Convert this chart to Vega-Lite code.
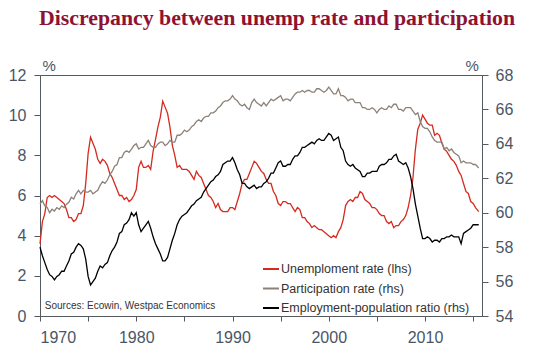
{
  "$schema": "https://vega.github.io/schema/vega-lite/v6.json",
  "width": 442,
  "height": 241,
  "autosize": {"type": "none"},
  "padding": {"left": 40, "top": 75, "right": 52, "bottom": 36},
  "background": "white",
  "title": {
    "text": "Discrepancy between unemp rate and participation",
    "font": "Liberation Serif",
    "fontSize": 21.8,
    "fontWeight": "bold",
    "color": "#8e1232",
    "anchor": "start",
    "frame": "group",
    "offset": 28,
    "dx": -1
  },
  "config": {
    "view": {"stroke": "#555a60", "strokeWidth": 1},
    "axis": {
      "domainColor": "#555a60",
      "tickColor": "#555a60",
      "labelColor": "#4a5666",
      "labelFont": "Liberation Sans",
      "labelFontSize": 16,
      "grid": false,
      "tickSize": 6,
      "titleFont": "Liberation Sans",
      "titleFontSize": 15,
      "titleFontWeight": "normal",
      "titleColor": "#4a5666"
    },
    "legend": {
      "orient": "none",
      "legendX": 222,
      "legendY": 185,
      "symbolType": "stroke",
      "symbolSize": 256,
      "symbolStrokeWidth": 2,
      "labelFont": "Liberation Sans",
      "labelFontSize": 12.5,
      "labelColor": "#333333",
      "labelOffset": 1,
      "labelLimit": 300,
      "rowPadding": 3.5,
      "title": null
    }
  },
  "data": {
    "values": [
      {"t":1970.00,"u":3.6,"p":60.5,"e":58.0},
      {"t":1970.25,"u":4.7,"p":60.7,"e":57.5},
      {"t":1970.50,"u":5.1,"p":60.4,"e":57.1},
      {"t":1970.75,"u":5.9,"p":60.3,"e":56.7},
      {"t":1971.00,"u":6.0,"p":60.0,"e":56.4},
      {"t":1971.25,"u":5.9,"p":60.2,"e":56.3},
      {"t":1971.50,"u":6.0,"p":60.1,"e":56.1},
      {"t":1971.75,"u":5.9,"p":60.3,"e":56.3},
      {"t":1972.00,"u":5.8,"p":60.2,"e":56.4},
      {"t":1972.25,"u":5.7,"p":60.4,"e":56.6},
      {"t":1972.50,"u":5.6,"p":60.3,"e":56.6},
      {"t":1972.75,"u":5.3,"p":60.5,"e":56.9},
      {"t":1973.00,"u":4.9,"p":60.6,"e":57.2},
      {"t":1973.25,"u":4.9,"p":60.9,"e":57.6},
      {"t":1973.50,"u":4.7,"p":60.8,"e":57.7},
      {"t":1973.75,"u":4.8,"p":61.1,"e":58.0},
      {"t":1974.00,"u":5.1,"p":61.3,"e":58.2},
      {"t":1974.25,"u":5.1,"p":61.1,"e":58.1},
      {"t":1974.50,"u":5.5,"p":61.3,"e":57.9},
      {"t":1974.75,"u":6.6,"p":61.2,"e":57.3},
      {"t":1975.00,"u":8.1,"p":61.2,"e":56.3},
      {"t":1975.25,"u":8.9,"p":61.3,"e":55.8},
      {"t":1975.50,"u":8.6,"p":61.1,"e":56.0},
      {"t":1975.75,"u":8.3,"p":61.2,"e":56.2},
      {"t":1976.00,"u":7.8,"p":61.3,"e":56.6},
      {"t":1976.25,"u":7.6,"p":61.6,"e":56.9},
      {"t":1976.50,"u":7.8,"p":61.8,"e":56.8},
      {"t":1976.75,"u":7.7,"p":61.7,"e":57.0},
      {"t":1977.00,"u":7.5,"p":61.9,"e":57.1},
      {"t":1977.25,"u":7.1,"p":62.2,"e":57.5},
      {"t":1977.50,"u":6.9,"p":62.4,"e":57.8},
      {"t":1977.75,"u":6.6,"p":62.7,"e":58.0},
      {"t":1978.00,"u":6.3,"p":62.8,"e":58.3},
      {"t":1978.25,"u":6.0,"p":63.2,"e":58.8},
      {"t":1978.50,"u":6.0,"p":63.2,"e":58.9},
      {"t":1978.75,"u":5.8,"p":63.5,"e":59.3},
      {"t":1979.00,"u":5.9,"p":63.6,"e":59.4},
      {"t":1979.25,"u":5.7,"p":63.5,"e":59.6},
      {"t":1979.50,"u":5.8,"p":63.7,"e":60.0},
      {"t":1979.75,"u":6.0,"p":63.9,"e":59.8},
      {"t":1980.00,"u":6.3,"p":64.0,"e":60.0},
      {"t":1980.25,"u":7.4,"p":63.7,"e":59.3},
      {"t":1980.50,"u":7.7,"p":63.8,"e":58.9},
      {"t":1980.75,"u":7.4,"p":63.8,"e":59.1},
      {"t":1981.00,"u":7.4,"p":64.0,"e":59.3},
      {"t":1981.25,"u":7.5,"p":64.2,"e":59.5},
      {"t":1981.50,"u":7.3,"p":63.9,"e":59.1},
      {"t":1981.75,"u":8.2,"p":63.8,"e":58.6},
      {"t":1982.00,"u":8.8,"p":63.8,"e":58.2},
      {"t":1982.25,"u":9.4,"p":64.0,"e":57.9},
      {"t":1982.50,"u":9.9,"p":64.1,"e":57.6},
      {"t":1982.75,"u":10.7,"p":64.1,"e":57.2},
      {"t":1983.00,"u":10.4,"p":63.9,"e":57.2},
      {"t":1983.25,"u":10.1,"p":64.0,"e":57.4},
      {"t":1983.50,"u":9.4,"p":64.2,"e":57.9},
      {"t":1983.75,"u":8.5,"p":64.1,"e":58.4},
      {"t":1984.00,"u":8.0,"p":64.1,"e":58.8},
      {"t":1984.25,"u":7.4,"p":64.5,"e":59.3},
      {"t":1984.50,"u":7.5,"p":64.5,"e":59.6},
      {"t":1984.75,"u":7.3,"p":64.6,"e":59.8},
      {"t":1985.00,"u":7.3,"p":64.8,"e":59.9},
      {"t":1985.25,"u":7.3,"p":64.7,"e":60.0},
      {"t":1985.50,"u":7.2,"p":64.8,"e":60.2},
      {"t":1985.75,"u":7.0,"p":65.0,"e":60.4},
      {"t":1986.00,"u":6.8,"p":65.1,"e":60.5},
      {"t":1986.25,"u":7.2,"p":65.3,"e":60.7},
      {"t":1986.50,"u":7.0,"p":65.4,"e":60.8},
      {"t":1986.75,"u":6.9,"p":65.3,"e":60.9},
      {"t":1987.00,"u":6.6,"p":65.5,"e":61.2},
      {"t":1987.25,"u":6.3,"p":65.6,"e":61.4},
      {"t":1987.50,"u":6.0,"p":65.6,"e":61.6},
      {"t":1987.75,"u":5.9,"p":65.8,"e":61.8},
      {"t":1988.00,"u":5.7,"p":65.8,"e":61.9},
      {"t":1988.25,"u":5.4,"p":65.9,"e":62.1},
      {"t":1988.50,"u":5.6,"p":66.1,"e":62.2},
      {"t":1988.75,"u":5.3,"p":66.2,"e":62.4},
      {"t":1989.00,"u":5.2,"p":66.4,"e":62.8},
      {"t":1989.25,"u":5.2,"p":66.5,"e":62.9},
      {"t":1989.50,"u":5.2,"p":66.5,"e":63.0},
      {"t":1989.75,"u":5.4,"p":66.6,"e":63.0},
      {"t":1990.00,"u":5.4,"p":66.8,"e":63.2},
      {"t":1990.25,"u":5.3,"p":66.6,"e":62.9},
      {"t":1990.50,"u":5.7,"p":66.5,"e":62.5},
      {"t":1990.75,"u":6.1,"p":66.3,"e":62.2},
      {"t":1991.00,"u":6.6,"p":66.2,"e":61.7},
      {"t":1991.25,"u":6.8,"p":66.3,"e":61.7},
      {"t":1991.50,"u":6.8,"p":66.1,"e":61.5},
      {"t":1991.75,"u":7.1,"p":66.0,"e":61.4},
      {"t":1992.00,"u":7.4,"p":66.4,"e":61.5},
      {"t":1992.25,"u":7.7,"p":66.6,"e":61.6},
      {"t":1992.50,"u":7.6,"p":66.4,"e":61.4},
      {"t":1992.75,"u":7.4,"p":66.3,"e":61.5},
      {"t":1993.00,"u":7.2,"p":66.2,"e":61.5},
      {"t":1993.25,"u":7.1,"p":66.4,"e":61.7},
      {"t":1993.50,"u":6.8,"p":66.2,"e":61.8},
      {"t":1993.75,"u":6.6,"p":66.4,"e":62.0},
      {"t":1994.00,"u":6.6,"p":66.6,"e":62.3},
      {"t":1994.25,"u":6.2,"p":66.5,"e":62.3},
      {"t":1994.50,"u":6.0,"p":66.6,"e":62.6},
      {"t":1994.75,"u":5.6,"p":66.7,"e":62.9},
      {"t":1995.00,"u":5.5,"p":66.8,"e":63.0},
      {"t":1995.25,"u":5.7,"p":66.5,"e":62.7},
      {"t":1995.50,"u":5.7,"p":66.6,"e":62.7},
      {"t":1995.75,"u":5.6,"p":66.6,"e":62.8},
      {"t":1996.00,"u":5.6,"p":66.5,"e":62.8},
      {"t":1996.25,"u":5.4,"p":66.7,"e":63.1},
      {"t":1996.50,"u":5.2,"p":66.9,"e":63.3},
      {"t":1996.75,"u":5.4,"p":67.0,"e":63.3},
      {"t":1997.00,"u":5.3,"p":67.0,"e":63.5},
      {"t":1997.25,"u":4.9,"p":67.1,"e":63.8},
      {"t":1997.50,"u":4.9,"p":67.0,"e":63.8},
      {"t":1997.75,"u":4.7,"p":67.1,"e":63.9},
      {"t":1998.00,"u":4.6,"p":67.1,"e":64.0},
      {"t":1998.25,"u":4.4,"p":67.0,"e":64.1},
      {"t":1998.50,"u":4.5,"p":67.0,"e":64.0},
      {"t":1998.75,"u":4.4,"p":67.2,"e":64.2},
      {"t":1999.00,"u":4.3,"p":67.2,"e":64.3},
      {"t":1999.25,"u":4.3,"p":67.1,"e":64.2},
      {"t":1999.50,"u":4.2,"p":67.0,"e":64.2},
      {"t":1999.75,"u":4.1,"p":67.1,"e":64.4},
      {"t":2000.00,"u":4.0,"p":67.3,"e":64.6},
      {"t":2000.25,"u":3.9,"p":67.1,"e":64.5},
      {"t":2000.50,"u":4.0,"p":66.9,"e":64.2},
      {"t":2000.75,"u":3.9,"p":66.9,"e":64.3},
      {"t":2001.00,"u":4.2,"p":67.2,"e":64.4},
      {"t":2001.25,"u":4.4,"p":66.8,"e":63.8},
      {"t":2001.50,"u":4.8,"p":66.8,"e":63.6},
      {"t":2001.75,"u":5.5,"p":66.7,"e":63.0},
      {"t":2002.00,"u":5.7,"p":66.5,"e":62.8},
      {"t":2002.25,"u":5.8,"p":66.6,"e":62.7},
      {"t":2002.50,"u":5.7,"p":66.6,"e":62.8},
      {"t":2002.75,"u":5.9,"p":66.4,"e":62.6},
      {"t":2003.00,"u":5.9,"p":66.4,"e":62.5},
      {"t":2003.25,"u":6.2,"p":66.4,"e":62.4},
      {"t":2003.50,"u":6.1,"p":66.1,"e":62.1},
      {"t":2003.75,"u":5.8,"p":66.1,"e":62.1},
      {"t":2004.00,"u":5.7,"p":66.0,"e":62.3},
      {"t":2004.25,"u":5.6,"p":66.0,"e":62.3},
      {"t":2004.50,"u":5.4,"p":66.1,"e":62.4},
      {"t":2004.75,"u":5.4,"p":66.0,"e":62.4},
      {"t":2005.00,"u":5.3,"p":65.8,"e":62.4},
      {"t":2005.25,"u":5.1,"p":66.0,"e":62.7},
      {"t":2005.50,"u":5.0,"p":66.1,"e":62.8},
      {"t":2005.75,"u":5.0,"p":66.0,"e":62.8},
      {"t":2006.00,"u":4.7,"p":66.0,"e":62.9},
      {"t":2006.25,"u":4.6,"p":66.2,"e":63.1},
      {"t":2006.50,"u":4.7,"p":66.1,"e":63.1},
      {"t":2006.75,"u":4.4,"p":66.3,"e":63.3},
      {"t":2007.00,"u":4.5,"p":66.3,"e":63.4},
      {"t":2007.25,"u":4.5,"p":66.0,"e":63.0},
      {"t":2007.50,"u":4.7,"p":66.0,"e":62.9},
      {"t":2007.75,"u":4.8,"p":65.9,"e":62.8},
      {"t":2008.00,"u":5.0,"p":66.1,"e":62.9},
      {"t":2008.25,"u":5.4,"p":66.1,"e":62.6},
      {"t":2008.50,"u":6.0,"p":66.1,"e":62.1},
      {"t":2008.75,"u":6.9,"p":65.9,"e":61.4},
      {"t":2009.00,"u":8.3,"p":65.7,"e":60.5},
      {"t":2009.25,"u":9.3,"p":65.8,"e":59.8},
      {"t":2009.50,"u":9.6,"p":65.3,"e":59.1},
      {"t":2009.75,"u":10.0,"p":65.0,"e":58.5},
      {"t":2010.00,"u":9.8,"p":64.9,"e":58.5},
      {"t":2010.25,"u":9.6,"p":64.9,"e":58.6},
      {"t":2010.50,"u":9.5,"p":64.7,"e":58.5},
      {"t":2010.75,"u":9.5,"p":64.4,"e":58.3},
      {"t":2011.00,"u":9.0,"p":64.2,"e":58.4},
      {"t":2011.25,"u":9.1,"p":64.1,"e":58.4},
      {"t":2011.50,"u":9.0,"p":64.1,"e":58.3},
      {"t":2011.75,"u":8.6,"p":64.1,"e":58.5},
      {"t":2012.00,"u":8.3,"p":63.7,"e":58.5},
      {"t":2012.25,"u":8.2,"p":63.8,"e":58.6},
      {"t":2012.50,"u":8.0,"p":63.6,"e":58.6},
      {"t":2012.75,"u":7.8,"p":63.7,"e":58.7},
      {"t":2013.00,"u":7.7,"p":63.5,"e":58.6},
      {"t":2013.25,"u":7.5,"p":63.4,"e":58.6},
      {"t":2013.50,"u":7.2,"p":63.3,"e":58.6},
      {"t":2013.75,"u":7.0,"p":62.9,"e":58.2},
      {"t":2014.00,"u":6.6,"p":63.0,"e":58.8},
      {"t":2014.25,"u":6.2,"p":62.9,"e":58.9},
      {"t":2014.50,"u":6.1,"p":62.9,"e":59.0},
      {"t":2014.75,"u":5.7,"p":62.9,"e":59.1},
      {"t":2015.00,"u":5.6,"p":62.8,"e":59.3},
      {"t":2015.25,"u":5.4,"p":62.8,"e":59.3},
      {"t":2015.58,"u":5.2,"p":62.6,"e":59.3}
    ]
  },
  "transform": [{"fold": ["u", "p", "e"], "as": ["key", "value"]}],
  "layer": [
    {
      "transform": [{"filter": "datum.key == 'u'"}],
      "mark": {"type": "line", "strokeWidth": 1.3},
      "encoding": {
        "x": {
          "field": "t", "type": "quantitative",
          "scale": {"domain": [1970, 2015.92], "nice": false, "zero": false},
          "axis": {
            "title": null,
            "values": [1970, 1975, 1980, 1985, 1990, 1995, 2000, 2005, 2010, 2015],
            "format": "d",
            "labelExpr": "datum.value % 10 == 0 ? datum.label : ''",
            "tickSize": 5,
            "labelPadding": 8
          }
        },
        "y": {
          "field": "value", "type": "quantitative",
          "scale": {"domain": [0, 12], "nice": false, "zero": false},
          "axis": {
            "orient": "left",
            "values": [0, 2, 4, 6, 8, 10, 12],
            "title": "%",
            "titleAngle": 0,
            "titleAlign": "left",
            "titleBaseline": "alphabetic",
            "titleX": 2,
            "titleY": -5,
            "labelPadding": 8
          }
        },
        "color": {
          "field": "key", "type": "nominal",
          "scale": {"domain": ["u", "p", "e"], "range": ["#d42a20", "#8c8279", "#000000"]},
          "legend": {
            "labelExpr": "datum.label == 'u' ? 'Unemploment rate (lhs)' : datum.label == 'p' ? 'Participation rate (rhs)' : 'Employment-population ratio (rhs)'"
          }
        }
      }
    },
    {
      "transform": [{"filter": "datum.key != 'u'"}],
      "mark": {"type": "line", "strokeWidth": 1.3},
      "encoding": {
        "x": {"field": "t", "type": "quantitative"},
        "y": {
          "field": "value", "type": "quantitative",
          "scale": {"domain": [54, 68], "nice": false, "zero": false},
          "axis": {
            "orient": "right",
            "values": [54, 56, 58, 60, 62, 64, 66, 68],
            "title": "%",
            "titleAngle": 0,
            "titleAlign": "left",
            "titleBaseline": "alphabetic",
            "titleX": -17,
            "titleY": -5,
            "labelPadding": 7
          }
        },
        "color": {"field": "key", "type": "nominal"}
      }
    },
    {
      "data": {"values": [{"t": 1970.5, "y": 0.5, "label": "Sources: Ecowin, Westpac Economics"}]},
      "mark": {"type": "text", "align": "left", "baseline": "middle", "font": "Liberation Sans", "fontSize": 10, "color": "#333333"},
      "encoding": {
        "x": {"field": "t", "type": "quantitative"},
        "y": {"field": "y", "type": "quantitative", "scale": {"domain": [0, 12], "nice": false, "zero": false}, "axis": null},
        "text": {"field": "label"}
      }
    }
  ],
  "resolve": {"scale": {"y": "independent"}, "axis": {"y": "independent"}}
}
